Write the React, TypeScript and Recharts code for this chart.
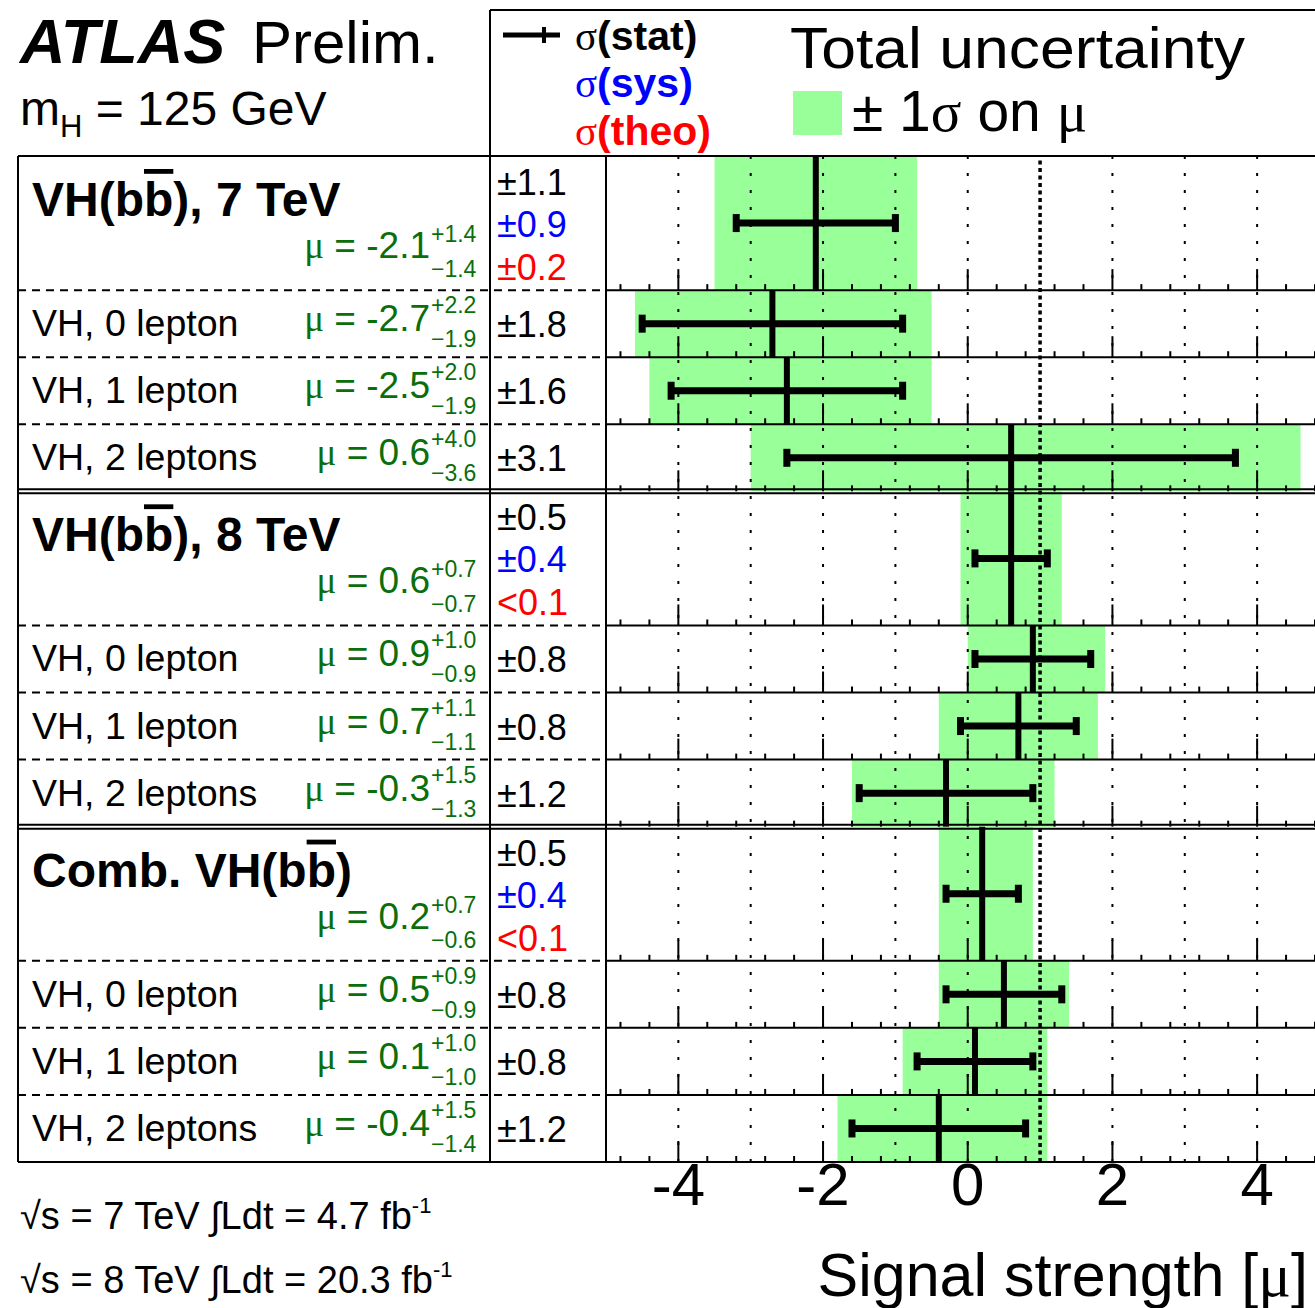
import React from 'react'
import {
  ComposedChart,
  XAxis,
  YAxis,
  Scatter,
  ErrorBar,
  ReferenceArea,
  ReferenceLine,
} from 'recharts'

// rows of the table, top to bottom
const rowKinds = ['group', 'sub', 'sub', 'sub', 'group', 'sub', 'sub', 'sub', 'group', 'sub', 'sub', 'sub']
const rowLabels = [
  'VH(bb\u0304), 7 TeV',
  'VH, 0 lepton',
  'VH, 1 lepton',
  'VH, 2 leptons',
  'VH(bb\u0304), 8 TeV',
  'VH, 0 lepton',
  'VH, 1 lepton',
  'VH, 2 leptons',
  'Comb. VH(bb\u0304)',
  'VH, 0 lepton',
  'VH, 1 lepton',
  'VH, 2 leptons',
]
const muValues = [-2.1, -2.7, -2.5, 0.6, 0.6, 0.9, 0.7, -0.3, 0.2, 0.5, 0.1, -0.4]
const muErrUp = [1.4, 2.2, 2.0, 4.0, 0.7, 1.0, 1.1, 1.5, 0.7, 0.9, 1.0, 1.5]
const muErrDown = [1.4, 1.9, 1.9, 3.6, 0.7, 0.9, 1.1, 1.3, 0.6, 0.9, 1.0, 1.4]
const statErr = [1.1, 1.8, 1.6, 3.1, 0.5, 0.8, 0.8, 1.2, 0.5, 0.8, 0.8, 1.2]
const groupSys = [0.9, 0.4, 0.4]
const groupTheo = ['\u00b10.2', '<0.1', '<0.1']

const xTicks = [-4, -2, 0, 2, 4]
const gridValues = [-4, -3, -2, -1, 0, 2, 3, 4]
const smValue = 1
const minorTicks = Array.from({ length: 25 }, (_, i) => Math.round((-4.8 + 0.4 * i) * 10) / 10)

const W = 1315
const H = 1308
const PLOT_LEFT = 606
const PLOT_TOP = 156
const PLOT_BOTTOM = 1162
const FONT = '"Liberation Sans", Arial, Helvetica, sans-serif'
const SERIF = '"Liberation Serif", "Times New Roman", serif'
const GREEN_FILL = '#99ff99'
const MU_TEXT = '#0a6e0a'

let acc = 0
const rows = rowLabels.map((label, i) => {
  const span = rowKinds[i] === 'group' ? 2 : 1
  const top = acc
  acc += span
  return {
    label,
    kind: rowKinds[i],
    top,
    bottom: acc,
    yc: top + span / 2,
    half: span / 2,
    mu: muValues[i],
    up: muErrUp[i],
    down: muErrDown[i],
    stat: statErr[i],
  }
})
const totalUnits = acc
const unitPx = (PLOT_BOTTOM - PLOT_TOP) / totalUnits
const py = (u: number) => PLOT_TOP + u * unitPx

const fmt = (v: number) => v.toFixed(1)

function withBar(text: string) {
  const parts = text.split('b\u0304')
  const out: React.ReactNode[] = []
  parts.forEach((p, i) => {
    out.push(<tspan key={'p' + i}>{p}</tspan>)
    if (i < parts.length - 1)
      out.push(
        <tspan key={'b' + i} style={{ textDecoration: 'overline' }}>
          b
        </tspan>
      )
  })
  return out
}

function Overlay() {
  const groupTops = rows.filter((r) => r.kind === 'group').map((r) => r.top)
  let g = -1
  return (
    <svg
      width={W}
      height={H}
      style={{ position: 'absolute', left: 0, top: 0, pointerEvents: 'none' }}
      fontFamily={FONT}
    >
      {/* header box */}
      <path d={`M490 10 H${W} M490 10 V${PLOT_BOTTOM}`} stroke="#000" strokeWidth={2} fill="none" />
      <path d={`M18 ${PLOT_TOP} H${W}`} stroke="#000" strokeWidth={2} />
      <path d={`M18 ${PLOT_TOP} V${PLOT_BOTTOM} M${PLOT_LEFT} ${PLOT_TOP} V${PLOT_BOTTOM}`} stroke="#000" strokeWidth={2} />
      <path d={`M18 ${PLOT_BOTTOM} H${W}`} stroke="#000" strokeWidth={2} />
      {groupTops
        .filter((t) => t > 0)
        .map((t) => (
          <path key={t} d={`M18 ${py(t) - 2} H${W} M18 ${py(t) + 2} H${W}`} stroke="#000" strokeWidth={2} />
        ))}
      {rows
        .filter((r) => r.kind === 'sub')
        .map((r, i) => (
          <g key={'sep' + i}>
            <path d={`M18 ${py(r.top)} H${PLOT_LEFT}`} stroke="#000" strokeWidth={2} strokeDasharray="8 6" />
            <path d={`M${PLOT_LEFT} ${py(r.top)} H${W}`} stroke="#000" strokeWidth={2} />
          </g>
        ))}

      {/* title */}
      <text x={20} y={63} fontSize={63} fontWeight="bold" fontStyle="italic">ATLAS</text>
      <text x={252} y={63} fontSize={60}>Prelim.</text>
      <text x={20} y={125} fontSize={48}>
        m<tspan fontSize={31} dy={12}>H</tspan>
        <tspan dy={-12}> = 125 GeV</tspan>
      </text>

      {/* legend */}
      <path d="M503 35 H560" stroke="#000" strokeWidth={5} />
      <path d="M544 27 V43" stroke="#000" strokeWidth={4} />
      <text x={575} y={50} fontSize={41} fontWeight="bold">
        <tspan fontFamily={SERIF} fontWeight="normal">σ</tspan>(stat)
      </text>
      <text x={575} y={97} fontSize={41} fontWeight="bold" fill="#0000ff">
        <tspan fontFamily={SERIF} fontWeight="normal">σ</tspan>(sys)
      </text>
      <text x={575} y={145} fontSize={41} fontWeight="bold" fill="#ff0000">
        <tspan fontFamily={SERIF} fontWeight="normal">σ</tspan>(theo)
      </text>
      <text x={790} y={68} fontSize={58} textLength={455} lengthAdjust="spacingAndGlyphs">
        Total uncertainty
      </text>
      <rect x={793} y={91} width={49} height={44} fill={GREEN_FILL} />
      <text x={852} y={131} fontSize={57}>
        ± 1<tspan fontFamily={SERIF}>σ</tspan> on <tspan fontFamily={SERIF}>μ</tspan>
      </text>

      {/* table rows */}
      {rows.map((r, i) => {
        const top = py(r.top)
        const isGroup = r.kind === 'group'
        if (isGroup) g += 1
        const mainY = isGroup ? top + 102 : top + 41
        const supY = isGroup ? top + 86 : top + 23
        const subY = isGroup ? top + 121 : top + 57
        return (
          <g key={'row' + i}>
            {isGroup ? (
              <text x={32} y={top + 60} fontSize={48} fontWeight="bold">
                {withBar(r.label)}
              </text>
            ) : (
              <text x={32} y={top + 46} fontSize={37.5}>
                {r.label}
              </text>
            )}
            <text x={430} y={mainY} fontSize={37} fill={MU_TEXT} textAnchor="end">
              <tspan fontFamily={SERIF}>μ</tspan> = {fmt(r.mu)}
            </text>
            <text x={431} y={supY} fontSize={23} fill={MU_TEXT}>
              +{fmt(r.up)}
            </text>
            <text x={431} y={subY} fontSize={23} fill={MU_TEXT}>
              {'\u2212' + fmt(r.down)}
            </text>
            {isGroup ? (
              <g fontSize={36}>
                <text x={497} y={top + 39}>±{fmt(r.stat)}</text>
                <text x={497} y={top + 81} fill="#0000ff">±{fmt(groupSys[g])}</text>
                <text x={497} y={top + 124} fill="#ff0000">{groupTheo[g]}</text>
              </g>
            ) : (
              <text x={497} y={top + 47} fontSize={36}>±{fmt(r.stat)}</text>
            )}
          </g>
        )
      })}

      {/* luminosity */}
      <text x={20} y={1229} fontSize={38}>
        √s = 7 TeV ∫Ldt = 4.7 fb<tspan fontSize={22} dy={-16}>-1</tspan>
      </text>
      <text x={20} y={1293} fontSize={38}>
        √s = 8 TeV ∫Ldt = 20.3 fb<tspan fontSize={22} dy={-16}>-1</tspan>
      </text>
      <text x={1308} y={1296} fontSize={61} textAnchor="end">
        Signal strength [<tspan fontFamily={SERIF}>μ</tspan>]
      </text>
    </svg>
  )
}

export default function App() {
  return (
    <div
      style={{
        position: 'absolute',
        left: 0,
        top: 0,
        width: W,
        height: H,
        overflow: 'hidden',
        background: '#fff',
        fontFamily: FONT,
      }}
    >
      <ComposedChart
        width={W}
        height={H}
        data={rows}
        margin={{ top: PLOT_TOP, right: 0, bottom: 86, left: PLOT_LEFT }}
        style={{ position: 'absolute', left: 0, top: 0 }}
      >
        <XAxis
          type="number"
          dataKey="mu"
          domain={[-5, 4.8]}
          allowDataOverflow
          ticks={xTicks}
          interval={0}
          axisLine={false}
          tickLine={false}
          tickSize={0}
          tickMargin={0}
          height={60}
          tick={{ fontSize: 60, fill: '#000', fontFamily: FONT }}
        />
        <YAxis type="number" dataKey="yc" domain={[0, totalUnits]} reversed allowDataOverflow hide />
        {rows.map((r, i) => (
          <ReferenceArea
            key={'box' + i}
            x1={r.mu - r.down}
            x2={r.mu + r.up}
            y1={r.top}
            y2={r.bottom}
            fill={GREEN_FILL}
            fillOpacity={1}
            stroke="none"
            ifOverflow="hidden"
          />
        ))}
        {gridValues.map((v) => (
          <ReferenceLine key={'grid' + v} x={v} stroke="#000" strokeWidth={2} strokeDasharray="3 14" />
        ))}
        <ReferenceLine x={smValue} stroke="#000" strokeWidth={3.5} strokeDasharray="4 3.5" />
        {rows.map((r, i) =>
          minorTicks.map((t) => {
            const major = xTicks.includes(t)
            const len = (major ? 21 : 6) / unitPx
            return (
              <ReferenceLine
                key={'tick' + i + '_' + t}
                segment={[
                  { x: t, y: r.bottom },
                  { x: t, y: r.bottom - len },
                ]}
                stroke="#000"
                strokeWidth={2}
              />
            )
          })
        )}
        <Scatter data={rows} shape={() => <g />} isAnimationActive={false}>
          <ErrorBar dataKey="stat" direction="x" width={9} strokeWidth={7} stroke="#000" isAnimationActive={false} />
          <ErrorBar dataKey="half" direction="y" width={0} strokeWidth={6} stroke="#000" isAnimationActive={false} />
        </Scatter>
      </ComposedChart>
      <Overlay />
    </div>
  )
}
